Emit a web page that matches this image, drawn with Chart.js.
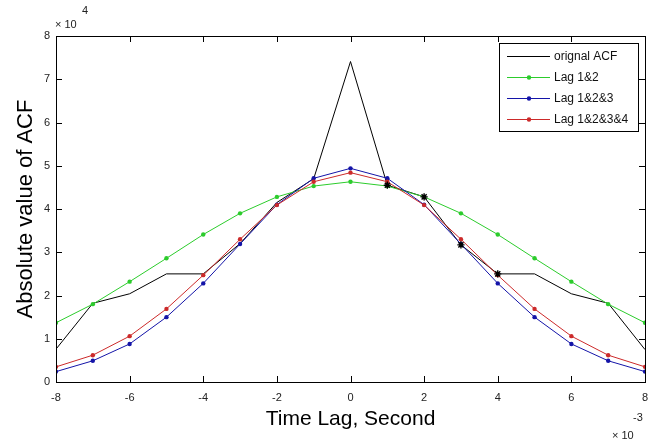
<!DOCTYPE html>
<html>
<head>
<meta charset="utf-8">
<script src="https://cdn.jsdelivr.net/npm/chart.js@4"></script>
<style>
  html, body { margin:0; padding:0; background:#fff; }
  #wrap { width:668px; height:443px; }
</style>
</head>
<body>
<div id="wrap"><canvas id="acf"></canvas></div>
<script>
// lag in units of 1e-3 s, ACF in units of 1e4
const lags = [-8,-7,-6,-5,-4,-3,-2,-1,0,1,2,3,4,5,6,7,8];
const original = [0.76,1.82,2.04,2.50,2.50,3.20,4.15,4.70,7.41,4.55,4.28,3.17,2.50,2.50,2.04,1.82,0.75];
const lag12 = [1.37,1.80,2.32,2.86,3.41,3.90,4.28,4.53,4.63,4.53,4.28,3.90,3.41,2.86,2.32,1.80,1.37];
const lag123 = [0.24,0.49,0.88,1.50,2.28,3.19,4.10,4.71,4.94,4.71,4.10,3.19,2.28,1.50,0.88,0.49,0.24];
const lag1234 = [0.35,0.62,1.06,1.69,2.47,3.30,4.09,4.63,4.84,4.63,4.09,3.30,2.47,1.69,1.06,0.62,0.35];
const starLags = [1,2,3,4]; // asterisks drawn on the original curve
const xTicks = [-8,-6,-4,-2,0,2,4,6,8];
const yTicks = [0,1,2,3,4,5,6,7,8];

const FONT = '"Liberation Sans", Arial, sans-serif';

const pts = arr => lags.map((x, i) => ({ x: x, y: arr[i] }));

// inward ticks on all four sides + exponent labels + legend box
const matlabPlugin = {
    id: 'matlab',
    afterDraw(chart) {
        const ctx = chart.ctx;
        const a = chart.chartArea;
        const sx = chart.scales.x, sy = chart.scales.y;
        const len = 6;
        ctx.save();
        ctx.strokeStyle = '#000';
        ctx.lineWidth = 1;
        ctx.beginPath();
        xTicks.forEach(v => {
            const p = Math.round(sx.getPixelForValue(v)) + 0.5;
            ctx.moveTo(p, a.bottom); ctx.lineTo(p, a.bottom - len);
            ctx.moveTo(p, a.top); ctx.lineTo(p, a.top + len);
        });
        yTicks.forEach(v => {
            const p = Math.round(sy.getPixelForValue(v)) + 0.5;
            ctx.moveTo(a.left, p); ctx.lineTo(a.left + len, p);
            ctx.moveTo(a.right, p); ctx.lineTo(a.right - len, p);
        });
        ctx.stroke();
        ctx.strokeRect(Math.round(a.left) + 0.5, Math.round(a.top) + 0.5,
                       Math.round(a.right - a.left), Math.round(a.bottom - a.top));

        // exponents
        ctx.fillStyle = '#222';
        ctx.textBaseline = 'middle';
        ctx.textAlign = 'left';
        ctx.font = '11px ' + FONT;
        ctx.fillText('\u00d7 10', a.left - 1, a.top - 11);
        ctx.fillText('4', a.left + 26, a.top - 25);
        ctx.fillText('-3', a.right - 12, a.bottom + 36);
        ctx.fillText('\u00d7 10', a.right - 33, a.bottom + 54);

        // legend
        const bx = 499, by = 43, bw = 139, bh = 88;
        ctx.fillStyle = '#fff';
        ctx.fillRect(bx, by, bw, bh);
        ctx.strokeRect(bx + 0.5, by + 0.5, bw, bh);
        ctx.font = '12px ' + FONT;
        const rows = chart.data.datasets.filter(d => !d.hideLegend);
        rows.forEach((d, i) => {
            const y = by + 13 + i * 21;
            ctx.strokeStyle = d.borderColor;
            ctx.lineWidth = 1;
            ctx.beginPath();
            ctx.moveTo(bx + 8, y + 0.5); ctx.lineTo(bx + 51, y + 0.5);
            ctx.stroke();
            if (d.pointRadius > 0) {
                ctx.fillStyle = d.borderColor;
                ctx.beginPath();
                ctx.arc(bx + 30, y + 0.5, 2.2, 0, Math.PI * 2);
                ctx.fill();
            }
            ctx.fillStyle = '#111';
            ctx.fillText(d.label, bx + 55, y + 1);
        });
        ctx.restore();
    }
};

new Chart(document.getElementById('acf'), {
    type: 'line',
    data: {
        datasets: [
            {
                label: 'orignal ACF', data: pts(original), borderColor: '#000', borderWidth: 1,
                pointRadius: 0, order: 4
            },
            {
                label: 'stars', hideLegend: true,
                data: pts(original).filter(p => starLags.includes(p.x)),
                showLine: false, pointStyle: 'star', pointRadius: 3.6, borderColor: '#000',
                backgroundColor: '#000', pointBorderWidth: 1.4, order: 0
            },
            {
                label: 'Lag 1&2', data: pts(lag12), borderColor: '#2ccc2c', backgroundColor: '#2ccc2c',
                borderWidth: 1, pointRadius: 2.2, pointBorderWidth: 0, order: 3
            },
            {
                label: 'Lag 1&2&3', data: pts(lag123), borderColor: '#1414a8', backgroundColor: '#1414a8',
                borderWidth: 1, pointRadius: 2.2, pointBorderWidth: 0, order: 2
            },
            {
                label: 'Lag 1&2&3&4', data: pts(lag1234), borderColor: '#cc2a2a', backgroundColor: '#cc2a2a',
                borderWidth: 1, pointRadius: 2.2, pointBorderWidth: 0, order: 1
            }
        ]
    },
    options: {
        responsive: true,
        maintainAspectRatio: false,
        animation: false,
        layout: { padding: { top: 36, right: 23, left: 0, bottom: 0 } },
        plugins: { legend: { display: false }, tooltip: { enabled: false } },
        elements: { line: { tension: 0 } },
        scales: {
            x: {
                type: 'linear', min: -8, max: 8,
                afterFit: s => { s.height = 61; },
                afterBuildTicks: s => { s.ticks = xTicks.map(v => ({ value: v })); },
                grid: { display: true, drawOnChartArea: false, drawTicks: false },
                border: { display: true, color: '#000', width: 1 },
                ticks: { padding: 9, color: '#222', font: { family: FONT, size: 11 }, maxRotation: 0 },
                title: { display: true, text: 'Time Lag, Second', color: '#000',
                         font: { family: FONT, size: 21 }, padding: 11 }
            },
            y: {
                type: 'linear', min: 0, max: 8,
                afterFit: s => { s.width = 56; },
                afterBuildTicks: s => { s.ticks = yTicks.map(v => ({ value: v })); },
                grid: { display: true, drawOnChartArea: false, drawTicks: false },
                border: { display: true, color: '#000', width: 1 },
                ticks: { padding: 6, color: '#222', font: { family: FONT, size: 11 } },
                title: { display: true, text: 'Absolute value of ACF', color: '#000',
                         font: { family: FONT, size: 22 }, padding: 13 }
            }
        }
    },
    plugins: [matlabPlugin]
});
</script>
</body>
</html>
